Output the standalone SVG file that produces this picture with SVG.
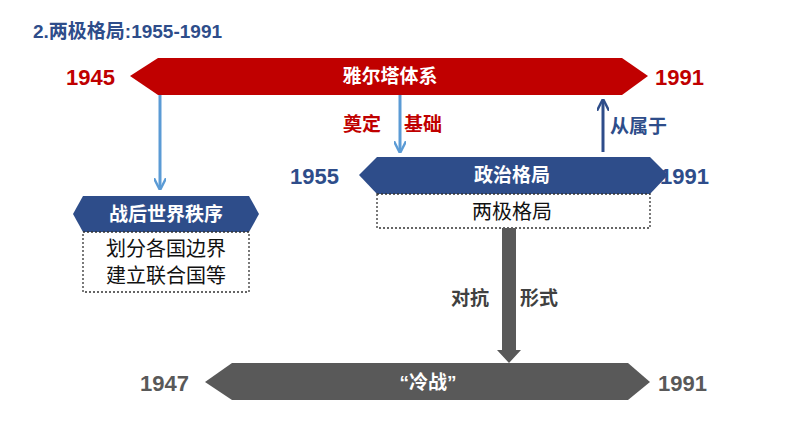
<svg xmlns="http://www.w3.org/2000/svg" width="794" height="447" viewBox="0 0 794 447">
<style>
text{font-family:"Liberation Sans","Noto Sans CJK SC",sans-serif;font-weight:bold}
.w{fill:#fff;font-size:19px}
.box{fill:#fff;stroke:#333;stroke-width:1.3;stroke-dasharray:2 2}
.n{font-weight:normal;font-size:20px;fill:#111}
</style>
<defs>
<marker id="la" viewBox="0 0 10 10" refX="9" refY="5" markerWidth="4" markerHeight="4" orient="auto"><path d="M0,0L10,5L0,10" fill="none" stroke="#5b9bd5" stroke-width="2"/></marker>
<marker id="da" viewBox="0 0 10 10" refX="9" refY="5" markerWidth="4" markerHeight="4" orient="auto"><path d="M0,0L10,5L0,10" fill="none" stroke="#2e4d8a" stroke-width="2"/></marker>
</defs>
<rect width="794" height="447" fill="#fff"/>
<text x="33" y="38" font-size="19" fill="#2e4d8a">2.两极格局:1955-1991</text>
<g id="yalta">
<polygon points="130,76 158,58 622,58 648,76 622,95 158,95" fill="#c00000"/>
<text class="w" x="390" y="83" text-anchor="middle">雅尔塔体系</text>
<text x="66" y="85" font-size="22" fill="#c00000">1945</text>
<text x="655" y="85" font-size="22" fill="#c00000">1991</text>
</g>
<g id="political">
<polygon points="359,175 377,157 650,157 668,175 650,194 377,194" fill="#2e4d8a"/>
<text class="w" x="512" y="182" text-anchor="middle">政治格局</text>
<text x="290" y="184" font-size="22" fill="#2e4d8a">1955</text>
<text x="660" y="184" font-size="22" fill="#2e4d8a">1991</text>
<rect class="box" x="377" y="194" width="273" height="34"/>
<text class="n" x="512" y="219" text-anchor="middle">两极格局</text>
</g>
<g id="postwar">
<polygon points="73,214 83,196 249,196 259,214 249,232 83,232" fill="#2e4d8a"/>
<text class="w" x="166" y="221" text-anchor="middle">战后世界秩序</text>
<rect class="box" x="83" y="232" width="166" height="60"/>
<text class="n" x="166" y="256" text-anchor="middle">划分各国边界</text>
<text class="n" x="166" y="283" text-anchor="middle">建立联合国等</text>
</g>
<g id="coldwar">
<polygon points="205,382 232,363 628,363 650,382 628,400 232,400" fill="#595959"/>
<text class="w" x="428" y="389" text-anchor="middle">“冷战”</text>
<text x="140" y="391" font-size="22" fill="#595959">1947</text>
<text x="658" y="391" font-size="22" fill="#595959">1991</text>
</g>
<g id="connectors">
<line x1="160" y1="95" x2="160" y2="189" stroke="#5b9bd5" stroke-width="3" marker-end="url(#la)"/>
<line x1="400" y1="95" x2="400" y2="152" stroke="#5b9bd5" stroke-width="3" marker-end="url(#la)"/>
<line x1="603" y1="152" x2="603" y2="100" stroke="#2e4d8a" stroke-width="3" marker-end="url(#da)"/>
<polygon points="502,228 516,228 516,350 521,350 509,363 497,350 502,350" fill="#595959"/>
<text x="343" y="131" font-size="19" fill="#c00000">奠定</text>
<text x="404" y="131" font-size="19" fill="#c00000">基础</text>
<text x="610" y="133" font-size="19" fill="#2e4d8a">从属于</text>
<text x="451" y="305" font-size="19" fill="#404040">对抗</text>
<text x="520" y="305" font-size="19" fill="#404040">形式</text>
</g>
</svg>
